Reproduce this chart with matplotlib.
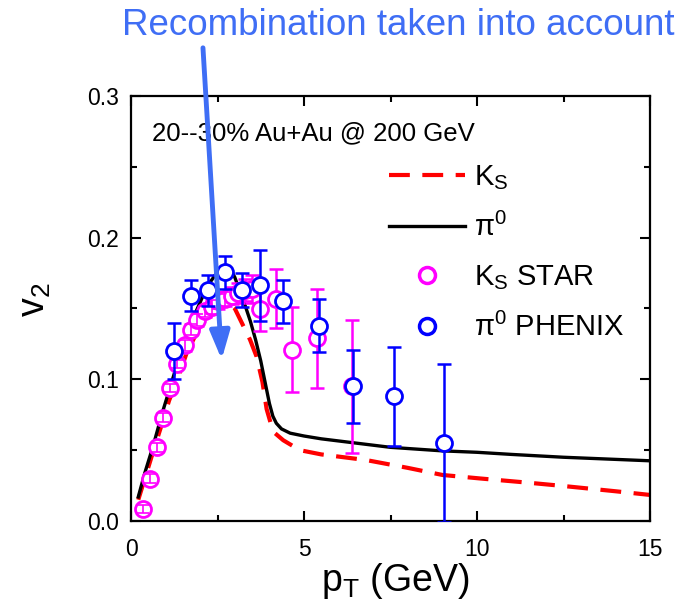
import numpy as np
import matplotlib
matplotlib.use("Agg")
import matplotlib.pyplot as plt
from matplotlib.lines import Line2D
from matplotlib.ticker import MultipleLocator, FormatStrFormatter

plt.rcParams['font.family'] = ['Liberation Sans', 'DejaVu Sans']
plt.rcParams['mathtext.default'] = 'regular'

# Model curves: v2 vs pT
pt_pi0_model = [0.21, 0.4, 0.64, 0.9, 1.1, 1.3, 1.5, 1.7, 1.9, 2.1, 2.3, 2.5, 2.7, 2.85,
                3.0, 3.15, 3.3, 3.45, 3.6, 3.75, 3.9, 4.0, 4.1, 4.2, 4.35, 4.6, 5.0,
                5.5, 6.5, 7.5, 9.0, 10.0, 11.0, 12.5, 14.0, 15.0]
v2_pi0_model = [0.017, 0.034, 0.053, 0.076, 0.092, 0.108, 0.122, 0.136, 0.149, 0.160,
                0.169, 0.176, 0.180, 0.179, 0.172, 0.162, 0.152, 0.141, 0.128, 0.113,
                0.095, 0.083, 0.074, 0.069, 0.065, 0.062, 0.060, 0.058, 0.055, 0.052,
                0.0495, 0.0485, 0.047, 0.045, 0.0435, 0.0425]

pt_ks_model = [0.21, 0.4, 0.64, 0.9, 1.1, 1.37, 1.6, 1.8, 2.0, 2.2, 2.4, 2.6, 2.8, 3.0,
               3.2, 3.44, 3.63, 3.8, 3.92, 4.05, 4.16, 4.4, 4.88, 5.5, 6.8, 8.0, 9.0,
               10.1, 11.5, 12.5, 14.0, 15.0]
v2_ks_model = [0.015, 0.030, 0.049, 0.069, 0.085, 0.102, 0.118, 0.128, 0.138, 0.146,
               0.152, 0.155, 0.155, 0.150, 0.140, 0.128, 0.116, 0.098, 0.079, 0.068,
               0.062, 0.057, 0.050, 0.047, 0.043, 0.0375, 0.0325, 0.030, 0.027, 0.0247,
               0.021, 0.0184]

# STAR K_S data
pt_ks_star = [0.36, 0.55, 0.75, 0.93, 1.13, 1.34, 1.56, 1.72, 1.92, 2.14, 2.33, 2.52,
              2.72, 2.91, 3.1, 3.3, 3.5, 3.72, 4.19, 4.66, 5.37, 6.4]
v2_ks_star = [0.0085, 0.030, 0.052, 0.073, 0.094, 0.111, 0.124, 0.135, 0.142, 0.148,
              0.151, 0.155, 0.157, 0.159, 0.161, 0.163, 0.164, 0.150, 0.157, 0.121,
              0.129, 0.095]
err_ks_star = [0.003, 0.003, 0.003, 0.003, 0.003, 0.003, 0.004, 0.004, 0.004, 0.004,
               0.005, 0.005, 0.005, 0.006, 0.007, 0.008, 0.010, 0.016, 0.021, 0.030,
               0.035, 0.047]

# PHENIX pi0 data
pt_pi0_phenix = [1.24, 1.72, 2.22, 2.72, 3.2, 3.72, 4.4, 5.42, 6.41, 7.61, 9.05]
v2_pi0_phenix = [0.120, 0.159, 0.163, 0.1755, 0.163, 0.1665, 0.155, 0.138, 0.095,
                 0.088, 0.055]
err_pi0_phenix = [0.020, 0.011, 0.011, 0.0115, 0.012, 0.025, 0.015, 0.019, 0.026,
                  0.035, 0.056]

RED = '#ff0000'
MAG = '#ff00ff'
BLUE = '#0000ff'
NOTE = '#3f6ef5'

fig = plt.figure(figsize=(6.85, 6.14), dpi=100)
ax = fig.add_axes([131 / 685, 1 - 521 / 614, 519 / 685, 425 / 614])

ax.plot(pt_ks_model, v2_ks_model, color=RED, lw=3, dashes=(5, 3), zorder=2)
ax.plot(pt_pi0_model, v2_pi0_model, color='black', lw=2.4, zorder=2)

ms = 11.5
mew = 2.0
ebkw = dict(elinewidth=1.8, capthick=1.8, capsize=5)

# STAR points: bars hidden behind the open circles, except tiny ones drawn on top
pk = np.array(pt_ks_star)
vk = np.array(v2_ks_star)
ek = np.array(err_ks_star)
small = ek < 0.0055
ax.errorbar(pk, vk, yerr=ek, fmt='none', ecolor=MAG, zorder=3, **ebkw)
ax.plot(pk, vk, 'o', ms=ms, mfc='white', mec=MAG, mew=mew, ls='none', zorder=4)
ax.errorbar(pk[small], vk[small], yerr=ek[small], fmt='none', ecolor=MAG, zorder=4.5,
            elinewidth=1.2, capthick=1.2, capsize=4)

ax.errorbar(pt_pi0_phenix, v2_pi0_phenix, yerr=err_pi0_phenix, fmt='none',
            ecolor=BLUE, zorder=5, **ebkw)
ax.plot(pt_pi0_phenix, v2_pi0_phenix, 'o', ms=ms, mfc='white', mec=BLUE, mew=mew,
        ls='none', zorder=6)

ax.set_xlim(0, 15)
ax.set_ylim(0, 0.3)
ax.xaxis.set_major_locator(MultipleLocator(5))
ax.xaxis.set_minor_locator(MultipleLocator(2.5))
ax.yaxis.set_major_locator(MultipleLocator(0.1))
ax.yaxis.set_minor_locator(MultipleLocator(0.05))
ax.yaxis.set_major_formatter(FormatStrFormatter('%.1f'))
ax.tick_params(which='both', direction='in', top=True, right=True, width=1.5,
               labelsize=16.5)
ax.tick_params(which='major', length=7)
ax.tick_params(axis='x', which='major', pad=12)
ax.tick_params(axis='y', which='major', pad=9)
ax.tick_params(which='minor', length=4)
for s in ax.spines.values():
    s.set_linewidth(1.6)

ax.set_xlabel(r'p$_T$ (GeV)', fontsize=27)
ax.set_ylabel(r'v$_2$', fontsize=27)
ax.xaxis.set_label_coords(0.509, -0.095)
ax.yaxis.set_label_coords(-0.15, 0.52)

ax.text(0.04, 0.913, '20--30% Au+Au @ 200 GeV', transform=ax.transAxes,
        fontsize=18.5, va='center', ha='left')

handles = [
    Line2D([], [], color=RED, lw=3, dashes=(5, 3)),
    Line2D([], [], color='black', lw=2.4),
    Line2D([], [], marker='o', ms=ms, mfc='white', mec=MAG, mew=mew + 0.5, ls='none'),
    Line2D([], [], marker='o', ms=ms, mfc='white', mec=BLUE, mew=mew + 0.5, ls='none'),
]
labels = [r'K$_S$', r'$\pi^0$', r'K$_S$ STAR', r'$\pi^0$ PHENIX']
ax.legend(handles, labels, loc='upper left', bbox_to_anchor=(0.475, 0.87),
          frameon=False, fontsize=21, handlelength=2.6, handletextpad=0.3,
          labelspacing=0.72, borderaxespad=0)

ax.annotate('', xy=(2.62, 0.114), xytext=(2.08, 0.334),
            xycoords='data', textcoords='data', annotation_clip=False,
            arrowprops=dict(arrowstyle='-|>,head_length=0.85,head_width=0.3',
                            mutation_scale=20, color=NOTE, lw=3.5,
                            shrinkA=0, shrinkB=0),
            zorder=10)

fig.text(0.582, 0.958, 'Recombination taken into account', color=NOTE,
         fontsize=26.5, ha='center', va='center')

fig.savefig('out.png', dpi=100)
